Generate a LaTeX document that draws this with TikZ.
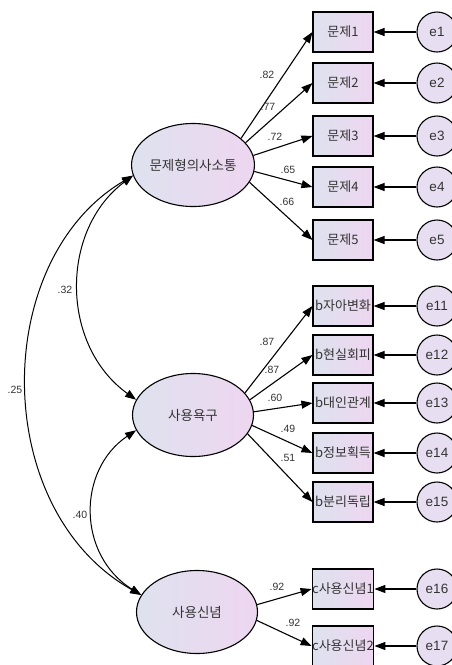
\documentclass[tikz,border=0pt]{standalone}
\usepackage{fontspec}
\setmainfont{Liberation Sans}
\newfontfamily\kr{Noto Sans CJK KR}
\usetikzlibrary{shapes.geometric,arrows.meta}
\definecolor{gl}{RGB}{222,226,238}
\definecolor{gr}{RGB}{238,214,240}
\definecolor{el}{RGB}{232,222,242}
\begin{document}
\begin{tikzpicture}[x=1pt,y=-1pt,
 lat/.style={ellipse,draw,line width=1.1pt,minimum width=121pt,minimum height=83pt,left color=gl,right color=gr,font=\kr\fontsize{13.5}{15}\selectfont,text=black!80,inner sep=0pt},
 obs/.style={rectangle,draw,line width=1.1pt,minimum width=60pt,minimum height=40pt,left color=gl,right color=gr,font=\kr\fontsize{13}{15}\selectfont,text=black!80,inner sep=0pt},
 err/.style={circle,draw,line width=1.1pt,minimum size=40pt,fill=el,inner sep=0pt,font=\fontsize{13.5}{15}\selectfont,text=black!80},
 arr/.style={line width=1.1pt,-{Triangle[length=11pt,width=8pt]}},
 cov/.style={line width=1pt,{Triangle[length=11pt,width=8pt]}-{Triangle[length=11pt,width=8pt]}},
 lab/.style={font=\fontsize{10.5}{12}\selectfont,inner sep=0pt,text=black!80}]
% latent
\node[lat] (E1) at (193,165) {문제형의사소통};
\node[lat] (E2) at (193,415) {사용욕구};
\node[lat] (E3) at (197,612) {사용신념};
% observed
\node[obs] (p1) at (343,32) {문제1};
\node[obs] (p2) at (343,83) {문제2};
\node[obs] (p3) at (343,136) {문제3};
\node[obs] (p4) at (343,187) {문제4};
\node[obs] (p5) at (343,240) {문제5};
\node[obs] (b1) at (343,306) {b자아변화};
\node[obs] (b2) at (343,355) {b현실회피};
\node[obs] (b3) at (343,403) {b대인관계};
\node[obs] (b4) at (343,453) {b정보획득};
\node[obs] (b5) at (343,502) {b분리독립};
\node[obs] (c1) at (343,589) {c사용신념1};
\node[obs] (c2) at (343,646) {c사용신념2};
% errors
\node[err] (e1) at (437,32) {e1};
\node[err] (e2) at (437,83) {e2};
\node[err] (e3) at (437,136) {e3};
\node[err] (e4) at (437,187) {e4};
\node[err] (e5) at (437,240) {e5};
\node[err] (e11) at (437,306) {e11};
\node[err] (e12) at (437,355) {e12};
\node[err] (e13) at (437,403) {e13};
\node[err] (e14) at (437,453) {e14};
\node[err] (e15) at (437,502) {e15};
\node[err] (e16) at (437,589) {e16};
\node[err] (e17) at (437,646) {e17};
% error arrows
\foreach \e/\o in {e1/p1,e2/p2,e3/p3,e4/p4,e5/p5,e11/b1,e12/b2,e13/b3,e14/b4,e15/b5,e16/c1,e17/c2}
  \draw[arr] (\e) -- (\o.east);
% loadings
\draw[arr] (E1.29) -- (p1.west);
\draw[arr] (E1.23) -- (p2.west);
\draw[arr] (E1.9) -- (p3.west);
\draw[arr] (E1.-6) -- (p4.west);
\draw[arr] (E1.-17) -- (p5.west);
\draw[arr] (E2.23) -- (b1.west);
\draw[arr] (E2.15) -- (b2.west);
\draw[arr] (E2.3) -- (b3.west);
\draw[arr] (E2.-10) -- (b4.west);
\draw[arr] (E2.-19) -- (b5.west);
\draw[arr] (E3.7) -- (c1.west);
\draw[arr] (E3.-8) -- (c2.west);
\node[lab] (l1) at (267,75) {.82};
\node[lab] (l2) at (268,107) {.77};
\node[lab] (l3) at (275,137) {.72};
\node[lab] (l4) at (288,170) {.65};
\node[lab] (l5) at (287,202) {.66};
\node[lab] (l6) at (267,342) {.87};
\node[lab] (l7) at (272,370) {.87};
\node[lab] (l8) at (275,398) {.60};
\node[lab] (l9) at (288,429) {.49};
\node[lab] (l10) at (288,458) {.51};
\node[lab] (l11) at (277,587) {.92};
\node[lab] (l12) at (293,623) {.92};
% covariances
\draw[cov] (E1.190) .. controls (60,230) and (60,345) .. (E2.165);
\draw[cov] (E1.190) .. controls (-10,260) and (-10,510) .. (E3.163);
\draw[cov] (E2.195) .. controls (77,470) and (77,555) .. (E3.163);
\node[lab] (c32) at (65,290) {.32};
\node[lab] (c25) at (15,390) {.25};
\node[lab] (c40) at (80,515) {.40};
\pgfresetboundingbox
\useasboundingbox (0,0) rectangle (451,665);
\end{tikzpicture}
\end{document}
